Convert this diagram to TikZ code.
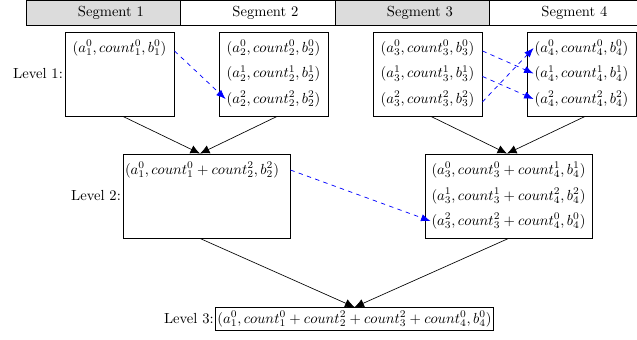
\documentclass[tikz,border=0pt]{standalone}
\usetikzlibrary{arrows.meta}
\definecolor{segfill}{RGB}{220,220,220}
\begin{document}
\begin{tikzpicture}[x=0.685pt,y=-0.685pt,
  box/.style={draw, line width=0.6pt, inner sep=0pt},
  l1box/.style={box, minimum width={109*0.685pt}, minimum height={84*0.685pt}},
  l2box/.style={box, minimum width={167*0.685pt}, minimum height={84*0.685pt}},
  seg/.style={draw, line width=0.6pt, fill=#1, inner sep=0pt,
    minimum width={154.5*0.685pt}, minimum height={25*0.685pt}},
  seg/.default=white,
  txt/.style={inner xsep=0.5pt, inner ysep=1pt},
  flow/.style={-{Latex[length=6.5pt,width=6pt]}, line width=0.45pt},
  link/.style={-{Latex[length=6.5pt,width=5pt]}, blue, dashed, line width=0.5pt}]
\useasboundingbox (0,0) rectangle (637,339);

% segments
\node[seg=segfill] (s1) at (103.25,13) {};
\node[seg] (s2) at (257.75,13) {};
\node[seg=segfill] (s3) at (412.25,13) {};
\node[seg] (s4) at (566.75,13) {};
\node (s1t) at ([xshift=5.3pt]s1.center) {Segment 1};
\node (s2t) at ([xshift=5.3pt]s2.center) {Segment 2};
\node (s3t) at ([xshift=5.3pt]s3.center) {Segment 3};
\node (s4t) at ([xshift=5.3pt]s4.center) {Segment 4};

% level 1
\node[l1box] (b1) at (119.5,74) {};
\node[l1box] (b2) at (273.5,74) {};
\node[l1box] (b3) at (427.5,74) {};
\node[l1box] (b4) at (581.5,74) {};
\node[txt] (t1a) at (119.5,48) {$(a_1^0, count_1^0, b_1^0)$};
\node[txt] (t2a) at (273.5,48) {$(a_2^0, count_2^0, b_2^0)$};
\node[txt] (t2b) at (273.5,73.5) {$(a_2^1, count_2^1, b_2^1)$};
\node[txt] (t2c) at (273.5,99) {$(a_2^2, count_2^2, b_2^2)$};
\node[txt] (t3a) at (427.5,48) {$(a_3^0, count_3^0, b_3^0)$};
\node[txt] (t3b) at (427.5,73.5) {$(a_3^1, count_3^1, b_3^1)$};
\node[txt] (t3c) at (427.5,99) {$(a_3^2, count_3^2, b_3^2)$};
\node[txt] (t4a) at (581.5,48) {$(a_4^0, count_4^0, b_4^0)$};
\node[txt] (t4b) at (581.5,73.5) {$(a_4^1, count_4^1, b_4^1)$};
\node[txt] (t4c) at (581.5,99) {$(a_4^2, count_4^2, b_4^2)$};
\node[anchor=east, inner sep=1pt] (lv1) at (b1.west) {Level 1:};

% level 2
\node[l2box] (c1) at (206.5,196) {};
\node[l2box] (c2) at (508.5,196) {};
\node[txt, anchor=west] (t5a) at (124,170) {$(a_1^0, count_1^0 + count_2^2, b_2^2)$};
\node[txt] (t6a) at (508.5,170) {$(a_3^0, count_3^0 + count_4^1, b_4^1)$};
\node[txt] (t6b) at (508.5,196) {$(a_3^1, count_3^1 + count_4^2, b_4^2)$};
\node[txt] (t6c) at (508.5,221) {$(a_3^2, count_3^2 + count_4^0, b_4^0)$};
\node[anchor=east, inner sep=1pt] (lv2) at (c1.west) {Level 2:};

% level 3
\node[box, inner xsep=1pt, inner ysep=2.5pt] (d1) at (354.5,319)
  {$(a_1^0, count_1^0 + count_2^2 + count_3^2 + count_4^0, b_4^0)$};
\node[anchor=east, inner sep=1pt] (lv3) at (d1.west) {Level 3:};

% merge arrows
\draw[flow] ([xshift=2.4pt]b1.south) -- ([xshift=-4.45pt]c1.north);
\draw[flow] ([xshift=2.4pt]b2.south) -- ([xshift=-4.45pt]c1.north);
\draw[flow] ([xshift=2.4pt]b3.south) -- ([xshift=-1pt]c2.north);
\draw[flow] ([xshift=2.4pt]b4.south) -- ([xshift=-1pt]c2.north);
\draw[flow] ([xshift=-4.45pt]c1.south) -- (d1.north);
\draw[flow] (c2.south) -- (d1.north);

% dashed links
\draw[link] ([yshift=-2pt]t1a.east -| b1.east) -- (t2c.west);
\draw[link] ([yshift=-2pt]t3a.east -| b3.east) -- (t4b.west);
\draw[link] ([yshift=-2pt]t3b.east -| b3.east) -- (t4c.west);
\draw[link] ([yshift=-2pt]t3c.east -| b3.east) -- (t4a.west);
\draw[link] (t5a.east -| c1.east) -- (t6c.west);
\end{tikzpicture}
\end{document}
